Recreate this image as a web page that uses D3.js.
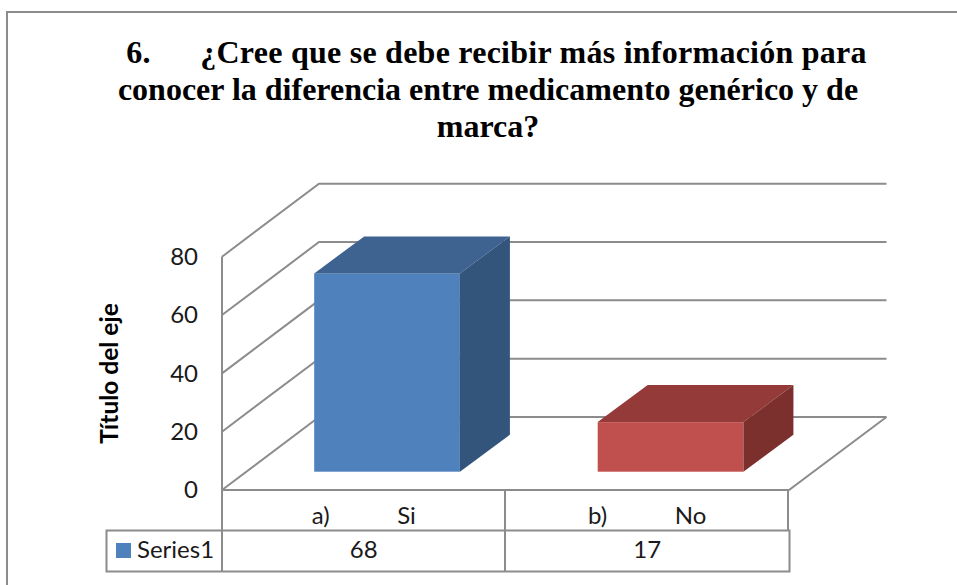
<!DOCTYPE html>
<html>
<head>
<meta charset="utf-8">
<style>
body { margin: 0; background: #fff; }
svg { display: block; }
.title { font: bold 32px "Liberation Serif", serif; fill: #000; text-anchor: middle; }
.lbl { font: 24px Lato, sans-serif; fill: #1a1a1a; }
.rule { stroke: #8c8c8c; stroke-width: 2; fill: none; }
</style>
</head>
<body>
<script src="https://d3js.org/d3.v7.min.js"></script>
<script>
var titleLines = ["6.      ¿Cree que se debe recibir más información para",
                  "conocer la diferencia entre medicamento genérico y de",
                  "marca?"];
var categories = ["a)           Si", "b)           No"];
var values = [68, 17];
var tickValues = [0, 20, 40, 60, 80];
var seriesName = "Series1";
var axisTitle = "Título del eje";
var fronts = ["#4f81bd", "#c0504d"];
var tops = ["#3f6391", "#943b39"];
var sides = ["#33547b", "#7c302e"];

var width = 957, height = 585;
var wallDx = 97, wallDy = -73;      // depth of the 3d box
var barDx = 50, barDy = -37;        // depth of one bar
var barOffX = 23.3, barOffY = -18.3; // bars sit inside the floor

var svg = d3.select("body").append("svg")
    .attr("width", width)
    .attr("height", height);

var x = d3.scaleBand()
    .domain(categories)
    .range([222, 789])
    .paddingInner(0.486)
    .paddingOuter(0.243);

var y = d3.scaleLinear()
    .domain([0, 80])
    .range([490, 256.7]);

// outer frame, runs off the picture on the right and bottom
svg.append("path").attr("class", "rule")
    .attr("d", "M7," + height + "V12H" + width);

// title
svg.selectAll(".title")
    .data(titleLines)
  .enter().append("text")
    .attr("class", "title")
    .attr("x", function(d, i) { return i == 0 ? 496.5 : 488; })
    .attr("y", function(d, i) { return 63 + i * 37; })
    .style("letter-spacing", function(d, i) { return i == 0 ? "0.25px" : null; })
    .style("white-space", "pre")
    .text(function(d) { return d; });

// walls
svg.selectAll(".grid")
    .data(tickValues)
  .enter().append("path")
    .attr("class", "rule")
    .attr("d", function(d) {
      return "M222," + y(d) + "L" + (222 + wallDx) + "," + (y(d) + wallDy) + "H886.5";
    });

// floor edge and front
svg.append("path").attr("class", "rule")
    .attr("d", "M886.5," + (y(0) + wallDy) + "L789," + y(0) + "H222");

// table
svg.append("path").attr("class", "rule")
    .attr("d", "M222," + y(80) + "V571.5M505,490V571.5M788,490V530.5"
      + "M106.5,530.5H789.5V571.5H106.5Z");

// bars
var bars = svg.selectAll(".bar")
    .data(values)
  .enter().append("g")
    .attr("class", "bar")
    .attr("transform", "translate(" + barOffX + "," + barOffY + ")");

bars.append("rect")
    .attr("x", function(d, i) { return x(categories[i]); })
    .attr("y", function(d) { return y(d); })
    .attr("width", x.bandwidth())
    .attr("height", function(d) { return y(0) - y(d); })
    .attr("fill", function(d, i) { return fronts[i]; });

bars.append("path")
    .attr("fill", function(d, i) { return tops[i]; })
    .attr("d", function(d, i) {
      var l = x(categories[i]), t = y(d);
      return "M" + l + "," + t + "l" + barDx + "," + barDy + "h" + x.bandwidth()
        + "l" + (-barDx) + "," + (-barDy) + "Z";
    });

bars.append("path")
    .attr("fill", function(d, i) { return sides[i]; })
    .attr("d", function(d, i) {
      var r = x(categories[i]) + x.bandwidth(), t = y(d);
      return "M" + r + "," + t + "l" + barDx + "," + barDy + "V" + (y(0) + barDy)
        + "L" + r + "," + y(0) + "Z";
    });

// y axis labels
svg.selectAll(".tick-label")
    .data(tickValues)
  .enter().append("text")
    .attr("class", "lbl tick-label")
    .attr("x", 198)
    .attr("y", function(d) { return y(d); })
    .attr("dy", ".35em")
    .style("text-anchor", "end")
    .text(function(d) { return d; });

svg.append("text")
    .attr("class", "lbl")
    .attr("transform", "translate(118,373.5) rotate(-90)")
    .style("text-anchor", "middle")
    .style("font-weight", "bold")
    .style("font-size", "24.5px")
    .style("fill", "#000")
    .text(axisTitle);

// table text
svg.selectAll(".cat")
    .data(categories)
  .enter().append("text")
    .attr("class", "lbl cat")
    .attr("x", function(d) { return x(d) + x.bandwidth() / 2; })
    .attr("y", 524)
    .style("text-anchor", "middle")
    .style("white-space", "pre")
    .text(function(d) { return d; });

svg.selectAll(".val")
    .data(values)
  .enter().append("text")
    .attr("class", "lbl val")
    .attr("x", function(d, i) { return x(categories[i]) + x.bandwidth() / 2; })
    .attr("y", 558)
    .style("text-anchor", "middle")
    .text(function(d) { return d; });

svg.append("rect")
    .attr("x", 116)
    .attr("y", 543)
    .attr("width", 15)
    .attr("height", 15)
    .attr("fill", fronts[0]);

svg.append("text")
    .attr("class", "lbl")
    .attr("x", 137)
    .attr("y", 558)
    .text(seriesName);
</script>
</body>
</html>
